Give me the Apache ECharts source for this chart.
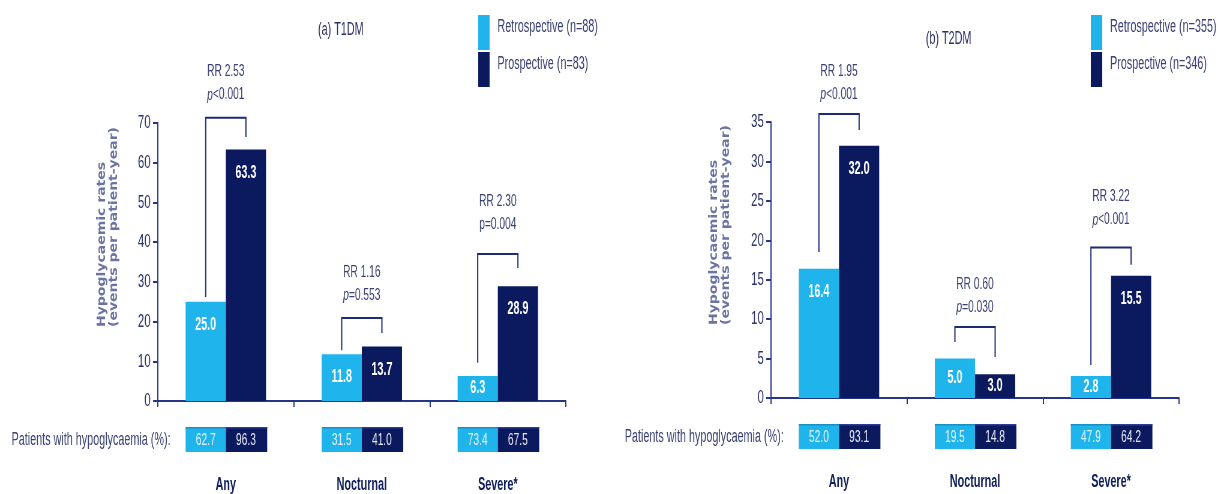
<!DOCTYPE html>
<html>
<head>
<meta charset="utf-8">
<script src="https://cdn.jsdelivr.net/npm/echarts@6/dist/echarts.min.js"></script>
<style>
html,body{margin:0;padding:0;background:#fff;overflow:hidden;width:1218px;height:494px;}
#c{width:2030px;height:494px;transform:scaleX(0.6);transform-origin:0 0;}
</style>
</head>
<body>
<div id="c"></div>
<script>
// ---- data ----
const categories = ['Any', 'Nocturnal', 'Severe*'];
const t1Retro = [25.0, 11.8, 6.3];
const t1Prosp = [63.3, 13.7, 28.9];
const t2Retro = [16.4, 5.0, 2.8];
const t2Prosp = [32.0, 3.0, 15.5];
const t1RetroPct = [62.7, 31.5, 73.4];
const t1ProspPct = [96.3, 41.0, 67.5];
const t2RetroPct = [52.0, 19.5, 47.9];
const t2ProspPct = [93.1, 14.8, 64.2];
const t1RR = ['RR 2.53', 'RR 1.16', 'RR 2.30'];
const t1P = ['<0.001', '=0.553', '=0.004'];
const t1PItalic = [true, true, false];
const t2RR = ['RR 1.95', 'RR 0.60', 'RR 3.22'];
const t2P = ['<0.001', '=0.030', '<0.001'];
const t2PItalic = [true, true, true];
// bracket levels (axis units)
const t1BracketLeft = [26.2, 12.8, 9.6];
const t1BracketTop = [71.3, 20.9, 37.0];
const t1BracketRight = [66.5, 17.1, 33.5];
const t1NoteLevel = [77.1, 26.7, 44.6];
const t2BracketLeft = [18.5, 7.1, 4.2];
const t2BracketTop = [36.0, 9.0, 19.1];
const t2BracketRight = [34.0, 5.2, 16.9];
const t2NoteLevel = [38.5, 11.5, 22.6];
const t1Axis = {max: 70, interval: 10};
const t2Axis = {max: 35, interval: 5};
const t1Names = ['Retrospective (n=88)', 'Prospective (n=83)'];
const t2Names = ['Retrospective (n=355)', 'Prospective (n=346)'];
const titles = ['(a) T1DM', '(b) T2DM'];
const yTitle = 'Hypoglycaemic rates\n(events per patient-year)';
const rowLabel = 'Patients with hypoglycaemia (%):';

// ---- style ----
const FONT = '"Liberation Sans", Arial, sans-serif';
const CYAN = '#1fb5ec';
const NAVY = '#0b1a5e';
const AXIS = '#24358a';
const TXT = '#3a4275';
const BAR_W = 67;
const LW = 2;

const chart = echarts.init(document.getElementById('c'));

function barData(vals, axis, gridH) {
  return vals.map(v => ({
    value: v,
    label: {position: (v / axis.max * gridH) < 45 ? 'inside' : 'insideTop'}
  }));
}

function bracketSeries(gi, left, top, right, note, rr, p, pItal) {
  const data = categories.map((c, i) => [i, left[i], top[i], right[i], note[i]]);
  return {
    type: 'custom', xAxisIndex: gi, yAxisIndex: gi, silent: true, z: 5,
    data: data,
    renderItem: function (params, api) {
      const i = api.value(0);
      const xc = api.coord([i, 0])[0];
      const xl = xc - BAR_W / 2, xr = xc + BAR_W / 2;
      const yL = api.coord([i, api.value(1)])[1];
      const yT = api.coord([i, api.value(2)])[1];
      const yR = api.coord([i, api.value(3)])[1];
      const yN = api.coord([i, api.value(4)])[1];
      const k = params.dataIndex;
      const pTxt = (pItal[k] ? '{i|p}' : '{n|p}') + '{n|' + p[k] + '}';
      return {
        type: 'group',
        children: [
          {type: 'polyline', shape: {points: [[xl, yL], [xl, yT], [xr, yT], [xr, yR]]},
           style: {stroke: '#1c2a7a', lineWidth: LW, fill: null}},
          {type: 'text', style: {text: rr[k], x: xc, y: yN - 23, align: 'center', verticalAlign: 'middle',
            fill: TXT, font: '17px ' + FONT}},
          {type: 'text', style: {text: pTxt, x: xc, y: yN, align: 'center', verticalAlign: 'middle',
            rich: {
              i: {fontStyle: 'italic', fontSize: 17, fontFamily: FONT, fill: TXT},
              n: {fontSize: 17, fontFamily: FONT, fill: TXT}
            }}}
        ]
      };
    }
  };
}

function rowSeries(gi, retroPct, prospPct) {
  const data = categories.map((c, i) => [i, retroPct[i], prospPct[i]]);
  return {
    type: 'custom', xAxisIndex: gi, yAxisIndex: gi, silent: true, z: 5,
    data: data,
    renderItem: function (params, api) {
      const i = api.value(0);
      const pt = api.coord([i, 0]);
      const xc = pt[0], y0 = pt[1];
      const top = y0 + 26, h = 25;
      const children = [
        {type: 'rect', shape: {x: xc - BAR_W, y: top, width: BAR_W, height: h}, style: {fill: CYAN}},
        {type: 'rect', shape: {x: xc, y: top, width: BAR_W + 2, height: h}, style: {fill: NAVY}},
        {type: 'rect', shape: {x: xc - BAR_W, y: top, width: BAR_W, height: 1.5}, style: {fill: '#1a8fc0'}},
        {type: 'rect', shape: {x: xc, y: top, width: BAR_W + 2, height: 1.5}, style: {fill: '#2b3f95'}},
        {type: 'text', style: {text: api.value(1).toFixed(1), x: xc - BAR_W / 2, y: top + h / 2 + 1,
          align: 'center', verticalAlign: 'middle', fill: '#e4f5fd', font: '17px ' + FONT}},
        {type: 'text', style: {text: api.value(2).toFixed(1), x: xc + BAR_W / 2, y: top + h / 2 + 1,
          align: 'center', verticalAlign: 'middle', fill: '#e6e9f5', font: '17px ' + FONT}}
      ];
      if (params.dataIndex === 0) {
        children.push({type: 'text', style: {text: rowLabel, x: xc - BAR_W - 25, y: top + h / 2 + 1,
          align: 'right', verticalAlign: 'middle', fill: TXT, font: '18px ' + FONT}});
      }
      return {type: 'group', children: children};
    }
  };
}

const grids = [
  {left: 263, top: 123, width: 680, height: 278},
  {left: 1285, top: 122, width: 680, height: 276}
];

function xAx(gi) {
  return {
    type: 'category', gridIndex: gi, data: categories,
    axisLine: {lineStyle: {color: AXIS, width: LW}},
    axisTick: {show: true, length: 6, lineStyle: {color: AXIS, width: LW}},
    axisLabel: {margin: 75, color: '#101f5c', fontWeight: 'bold', fontSize: 18, fontFamily: FONT}
  };
}
function yAx(gi, ax) {
  return {
    type: 'value', gridIndex: gi, min: 0, max: ax.max, interval: ax.interval,
    splitLine: {show: false},
    axisLine: {show: true, lineStyle: {color: AXIS, width: LW}},
    axisTick: {show: true, length: 8, lineStyle: {color: AXIS, width: LW}},
    axisLabel: {margin: 12, color: '#2b3266', fontSize: 19, fontFamily: FONT}
  };
}

const barLabel = {
  show: true, distance: 14, color: '#ffffff', fontWeight: 'bold', fontSize: 18, fontFamily: FONT,
  formatter: p => p.value.toFixed(1)
};

const legendText = {
  color: TXT, fontSize: 18, fontFamily: FONT,
  rich: {a: {color: TXT, fontSize: 18, lineHeight: 18, fontFamily: FONT, padding: [0, 0, 10, 8]}}
};

const yTitleStyle = {text: yTitle, align: 'left', verticalAlign: 'middle', lineHeight: 14, fill: '#6b73a3',
  font: 'bold 14px "DejaVu Sans", sans-serif'};

const option = {
  animation: false,
  backgroundColor: '#ffffff',
  title: [
    {text: titles[0], left: 525, top: 16, textStyle: {fontSize: 18, fontWeight: 'normal', color: '#2b3266', fontFamily: FONT}},
    {text: titles[1], left: 1538, top: 25, textStyle: {fontSize: 18, fontWeight: 'normal', color: '#2b3266', fontFamily: FONT}}
  ],
  legend: [
    {data: t1Names, left: 792, top: 10, orient: 'vertical', itemWidth: 19, itemHeight: 35, itemGap: 2,
     icon: 'rect', selectedMode: false, textStyle: legendText, formatter: n => '{a|' + n + '}'},
    {data: t2Names, left: 1813, top: 10, orient: 'vertical', itemWidth: 19, itemHeight: 35, itemGap: 2,
     icon: 'rect', selectedMode: false, textStyle: legendText, formatter: n => '{a|' + n + '}'}
  ],
  grid: grids,
  xAxis: [xAx(0), xAx(1)],
  yAxis: [yAx(0, t1Axis), yAx(1, t2Axis)],
  graphic: [
    {type: 'text', x: 180, y: 327, rotation: Math.PI / 2, scaleY: 1.4, style: yTitleStyle},
    {type: 'text', x: 1200, y: 325, rotation: Math.PI / 2, scaleY: 1.4, style: yTitleStyle}
  ],
  series: [
    {name: t1Names[0], type: 'bar', xAxisIndex: 0, yAxisIndex: 0, barWidth: BAR_W, barGap: '0%',
     itemStyle: {color: CYAN}, label: barLabel, data: barData(t1Retro, t1Axis, 278)},
    {name: t1Names[1], type: 'bar', xAxisIndex: 0, yAxisIndex: 0, barWidth: BAR_W, barGap: '0%',
     itemStyle: {color: NAVY}, label: barLabel, data: barData(t1Prosp, t1Axis, 278)},
    {name: t2Names[0], type: 'bar', xAxisIndex: 1, yAxisIndex: 1, barWidth: BAR_W, barGap: '0%',
     itemStyle: {color: CYAN}, label: barLabel, data: barData(t2Retro, t2Axis, 276)},
    {name: t2Names[1], type: 'bar', xAxisIndex: 1, yAxisIndex: 1, barWidth: BAR_W, barGap: '0%',
     itemStyle: {color: NAVY}, label: barLabel, data: barData(t2Prosp, t2Axis, 276)},
    bracketSeries(0, t1BracketLeft, t1BracketTop, t1BracketRight, t1NoteLevel, t1RR, t1P, t1PItalic),
    bracketSeries(1, t2BracketLeft, t2BracketTop, t2BracketRight, t2NoteLevel, t2RR, t2P, t2PItalic),
    rowSeries(0, t1RetroPct, t1ProspPct),
    rowSeries(1, t2RetroPct, t2ProspPct)
  ]
};
chart.setOption(option);
</script>
</body>
</html>
